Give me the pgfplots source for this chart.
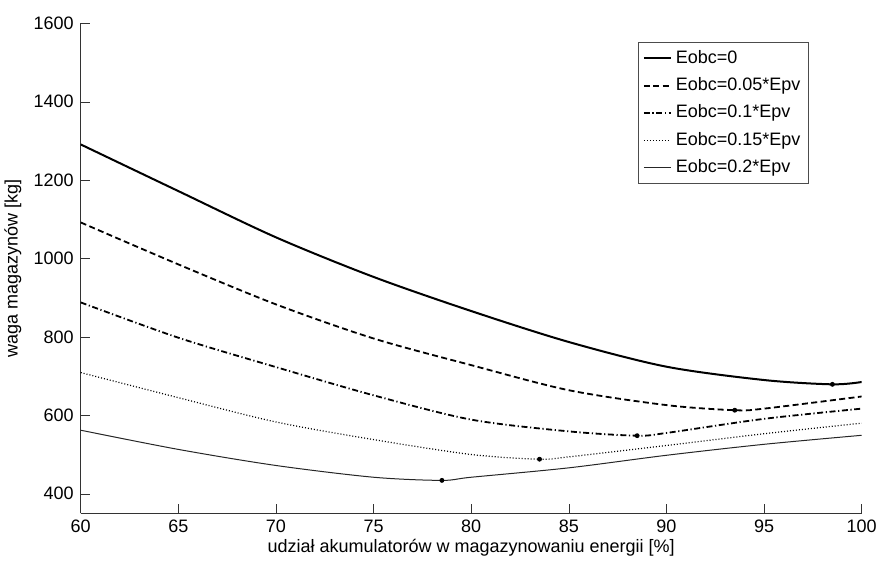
\documentclass[border=0pt]{standalone}
\usepackage{fontspec}
\setmainfont{Liberation Sans}
\usepackage{pgfplots}
\pgfplotsset{compat=1.18}

\begin{document}
\begin{tikzpicture}
\useasboundingbox (-40.35pt,-25.35pt) rectangle (399.65pt,256.65pt);
\begin{axis}[
    scale only axis,
    width=390.5pt, height=245pt,
    xmin=60, xmax=100, ymin=350, ymax=1600,
    xtick={60,65,...,100},
    ytick={400,600,...,1600},
    axis x line*=bottom, axis y line*=left,
    axis line style={-, black!80},
    tick style={black!80},
    tick align=inside,
    major tick length=4.5pt,
    font=\fontsize{9}{11}\selectfont,
    /pgf/number format/assume math mode=true,
    /pgf/number format/1000 sep={},
    xlabel={udział akumulatorów w magazynowaniu energii [\%]},
    ylabel={waga magazynów [kg]},
    xlabel style={at={(axis description cs:0.5,0)}, anchor=center, yshift=-17pt},
    ylabel style={at={(axis description cs:-0.087,0.5)}, anchor=center},
    legend style={at={(rel axis cs:0.9325,0.962)}, anchor=north east,
        draw=black!70, line width=0.5pt, font=\fontsize{9}{11}\selectfont,
        row sep=1.6pt, inner sep=2pt},
    legend cell align=left,
    legend image code/.code={\draw[#1] (0pt,0pt) -- (13.5pt,0pt);},
]
% Eobc=0
\addplot[black, line width=1pt, smooth] coordinates {
    (60,1291)(65,1172)(70,1054)(75,953)(80,866)(85,787)(90,724)(95,690)(98.5,679)(100,685)
};
\addlegendentry{Eobc=0}
% Eobc=0.05*Epv
\addplot[black, line width=0.9pt, dash pattern=on 3pt off 1.7pt, smooth] coordinates {
    (60,1092)(65,985)(70,883)(75,796)(80,728)(85,664)(90,626)(93.5,613)(95,617)(100,648)
};
\addlegendentry{Eobc=0.05*Epv}
% Eobc=0.1*Epv
\addplot[black, line width=0.9pt, dash pattern=on 3pt off 1.3pt on 0.6pt off 1.3pt, smooth] coordinates {
    (60,888)(65,798)(70,723)(75,651)(80,589)(85,559)(88.5,548)(90,555)(95,591)(100,617)
};
\addlegendentry{Eobc=0.1*Epv}
% Eobc=0.15*Epv
\addplot[black, line width=0.6pt, dash pattern=on 0.5pt off 1pt, smooth] coordinates {
    (60,709)(65,645)(70,583)(75,538)(80,500)(83.5,488)(85,494)(90,523)(95,553)(100,580)
};
\addlegendentry{Eobc=0.15*Epv}
% Eobc=0.2*Epv
\addplot[black!85, line width=0.5pt, smooth] coordinates {
    (60,562)(65,513)(70,472)(75,442)(78.5,434)(80,442)(85,466)(90,498)(95,526)(100,549)
};
\addlegendentry{Eobc=0.2*Epv}
% minima
\addplot[only marks, mark=*, mark size=1pt, black, forget plot] coordinates {
    (98.5,679)(93.5,613)(88.5,548)(83.5,488)(78.5,434)
};
\end{axis}
\end{tikzpicture}
\end{document}
